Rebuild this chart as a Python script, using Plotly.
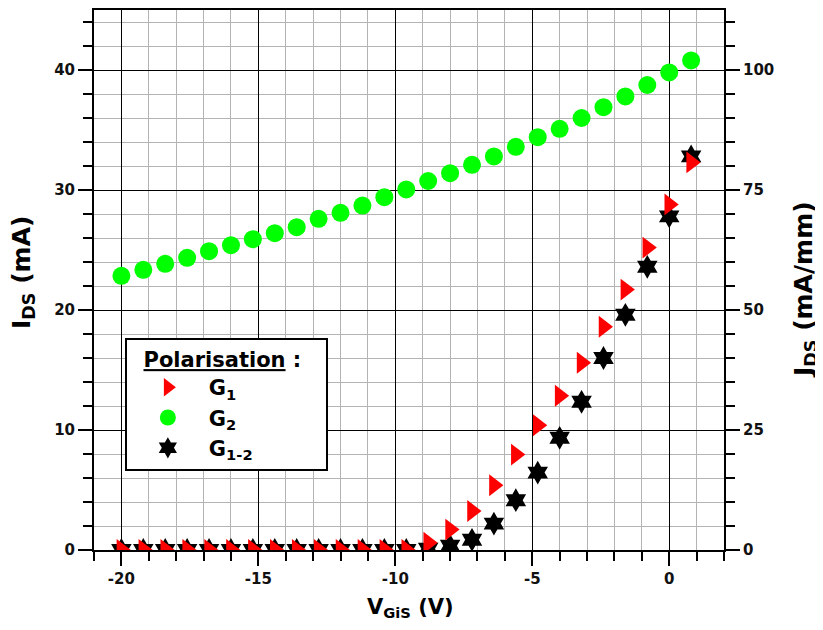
import plotly.graph_objects as go

# ---- data ----
v_gis = [-20.0, -19.2, -18.4, -17.6, -16.8, -16.0, -15.2, -14.4, -13.6, -12.8,
         -12.0, -11.2, -10.4, -9.6, -8.8, -8.0, -7.2, -6.4, -5.6, -4.8,
         -4.0, -3.2, -2.4, -1.6, -0.8, 0.0, 0.8]

ids_g1 = [0.0, 0.0, 0.0, 0.0, 0.0, 0.0, 0.0, 0.0, 0.0, 0.0,
          0.0, 0.0, 0.0, 0.0, 0.6, 1.7, 3.25, 5.4, 7.95, 10.4,
          12.85, 15.6, 18.6, 21.7, 25.2, 28.8, 32.3]

ids_g2 = [22.85, 23.35, 23.85, 24.35, 24.9, 25.4, 25.9, 26.4, 26.9, 27.6,
          28.1, 28.7, 29.4, 30.05, 30.75, 31.4, 32.1, 32.8, 33.6, 34.4,
          35.1, 36.0, 36.9, 37.8, 38.75, 39.8, 40.8]

ids_g12 = [0.0, 0.0, 0.0, 0.0, 0.0, 0.0, 0.0, 0.0, 0.0, 0.0,
           0.0, 0.0, 0.0, 0.0, 0.1, 0.35, 0.85, 2.2, 4.15, 6.45,
           9.35, 12.35, 16.0, 19.6, 23.6, 27.8, 32.8]

x_tickvals = [-20, -15, -10, -5, 0]
x_ticktext = ["-20", "-15", "-10", "-5", "0"]
y_tickvals = [0, 10, 20, 30, 40]
y_ticktext = ["0", "10", "20", "30", "40"]
j_tickvals = [0, 25, 50, 75, 100]
j_ticktext = ["0", "25", "50", "75", "100"]

x_title = "V<sub>GiS</sub> (V)"
y_title = "I<sub>DS</sub> (mA)"
y2_title = "J<sub>DS</sub> (mA/mm)"
legend_title = "\u00a0\u00a0<u>Polarisation</u> :\u00a0\u00a0\u00a0"

FONT = "DejaVu Sans"

fig = go.Figure()

fig.add_trace(go.Scatter(
    x=v_gis, y=ids_g2, mode="markers", name="G<sub>2</sub>", legendrank=2,
    marker=dict(symbol="circle", size=18, color="#00ff00", line=dict(width=0))))
fig.add_trace(go.Scatter(
    x=v_gis, y=ids_g12, mode="markers", name="G<sub>1-2</sub>", legendrank=3,
    marker=dict(symbol="hexagram", size=18, color="#000000", line=dict(width=0))))
fig.add_trace(go.Scatter(
    x=v_gis, y=ids_g1, mode="markers", name="G<sub>1</sub>", legendrank=1,
    marker=dict(symbol="triangle-right", size=19, color="#ff0000", line=dict(width=0))))
# empty trace to bring the right-hand axis into existence
fig.add_trace(go.Scatter(x=[None], y=[None], yaxis="y2", showlegend=False,
                         hoverinfo="skip", mode="markers"))

tickfont = dict(family=FONT, size=15, color="#111", weight="bold")

fig.update_layout(
    width=815, height=622,
    margin=dict(l=86, r=99, t=2, b=80, autoexpand=False),
    paper_bgcolor="white", plot_bgcolor="white",
    font=dict(family=FONT, color="#000"),
    xaxis=dict(
        range=[-21, 2], tickmode="array", tickvals=x_tickvals, ticktext=x_ticktext,
        ticks="outside", ticklen=14, tickwidth=1.5, tickcolor="black",
        showgrid=True, gridcolor="black", gridwidth=1,
        showline=True, linecolor="black", linewidth=2, mirror=True,
        zeroline=False, tickfont=tickfont, automargin=False,
        minor=dict(tickmode="linear", tick0=0, dtick=1, ticks="outside", ticklen=9,
                   tickwidth=1.5, tickcolor="black", showgrid=True,
                   gridcolor="#b4b4b4", gridwidth=1),
    ),
    yaxis=dict(
        range=[0, 45], tickmode="array", tickvals=y_tickvals, ticktext=y_ticktext,
        ticks="outside", ticklen=14, tickwidth=1.5, tickcolor="black",
        showgrid=True, gridcolor="black", gridwidth=1,
        showline=True, linecolor="black", linewidth=2, mirror=True,
        zeroline=False, tickfont=tickfont, automargin=False,
        minor=dict(tickmode="linear", tick0=0, dtick=2, ticks="outside", ticklen=9,
                   tickwidth=1.5, tickcolor="black", showgrid=True,
                   gridcolor="#b4b4b4", gridwidth=1),
    ),
    yaxis2=dict(
        overlaying="y", side="right", anchor="x",
        range=[0, 112.5], tickmode="array", tickvals=j_tickvals, ticktext=j_ticktext,
        ticks="outside", ticklen=14, tickwidth=1.5, tickcolor="black",
        showgrid=False, showline=True, linecolor="black", linewidth=2,
        zeroline=False, tickfont=tickfont, automargin=False,
        minor=dict(tickmode="linear", tick0=0, dtick=5, ticks="outside", ticklen=9,
                   tickwidth=1.5, tickcolor="black", showgrid=False),
    ),
    legend=dict(
        x=0.049, y=0.393, xanchor="left", yanchor="top",
        bgcolor="white", bordercolor="black", borderwidth=2,
        font=dict(family=FONT, size=21, color="#000", weight="bold"),
        title=dict(text=legend_title,
                   font=dict(family=FONT, size=21, color="#000", weight="bold")),
        traceorder="normal", itemwidth=72,
    ),
    showlegend=True,
)

fig.add_annotation(text=x_title, xref="paper", yref="paper", x=0.5016, y=-0.1074,
                   xanchor="center", yanchor="middle", showarrow=False,
                   font=dict(family=FONT, size=21, color="#000", weight="bold"))
fig.add_annotation(text=y_title, xref="paper", yref="paper", x=-0.1127, y=0.5148,
                   xanchor="center", yanchor="middle", showarrow=False, textangle=-90,
                   font=dict(family=FONT, size=25, color="#000", weight="bold"))
fig.add_annotation(text=y2_title, xref="paper", yref="paper", x=1.1286, y=0.4815,
                   xanchor="center", yanchor="middle", showarrow=False, textangle=-90,
                   font=dict(family=FONT, size=25, color="#000", weight="bold"))

fig.write_html("out.html")
